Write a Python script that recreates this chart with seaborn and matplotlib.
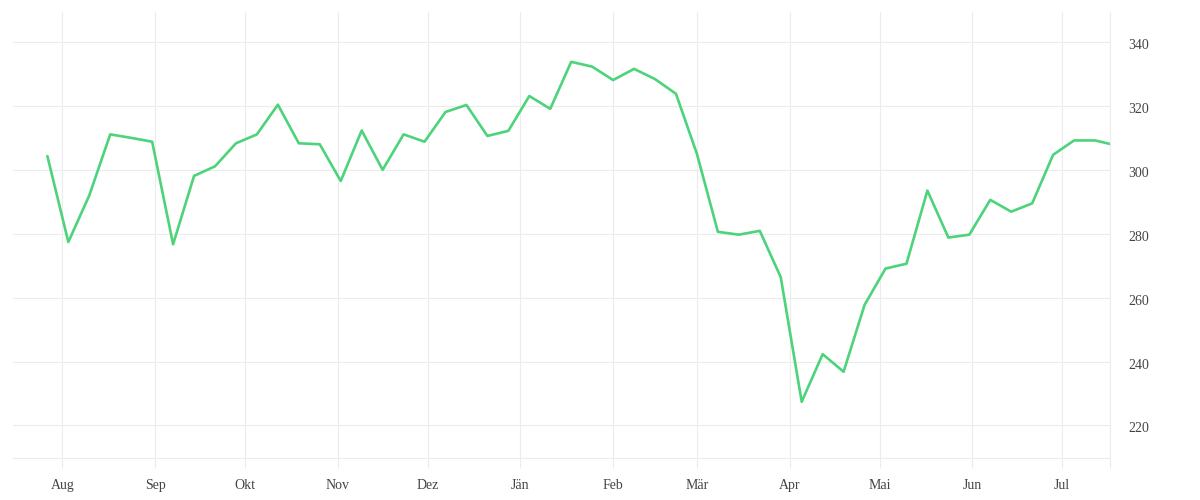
import matplotlib
matplotlib.use("Agg")
import matplotlib.pyplot as plt
import matplotlib.transforms as mtransforms
import seaborn as sns
import pandas as pd

# ---- data ----
first_date = "2022-07-27"
n_weekly = 51
last_date = "2023-07-17"
values = [304.3, 277.4, 292.0, 311.1, 310.0, 308.8, 276.7, 298.1, 301.1, 308.3,
          311.1, 320.4, 308.3, 308.0, 296.5, 312.3, 300.0, 311.1, 308.8, 318.1,
          320.3, 310.6, 312.2, 323.1, 319.1, 333.8, 332.3, 328.1, 331.6, 328.4,
          323.8, 305.0, 280.6, 279.7, 280.9, 266.4, 227.4, 242.3, 236.8, 257.7,
          269.1, 270.6, 293.5, 278.8, 279.7, 290.6, 286.9, 289.5, 304.7, 309.2,
          309.2, 308.1]
month_starts = ["2022-08-01", "2022-09-01", "2022-10-01", "2022-11-01", "2022-12-01",
                "2023-01-01", "2023-02-01", "2023-03-01", "2023-04-01", "2023-05-01",
                "2023-06-01", "2023-07-01"]
month_labels = ["Aug", "Sep", "Okt", "Nov", "Dez", "Jän", "Feb", "Mär", "Apr", "Mai", "Jun", "Jul"]
y_ticks = [220, 240, 260, 280, 300, 320, 340]
x_start = "2022-07-15 12:00"

dates = list(pd.date_range(first_date, periods=n_weekly, freq="7D")) + [pd.Timestamp(last_date)]
df = pd.DataFrame({"date": dates, "value": values})

sns.set_theme(style="white")
plt.rcParams["font.family"] = ["Liberation Serif", "DejaVu Serif"]

grid_c = "#ececec"
text_c = "#444444"

fig = plt.figure(figsize=(12, 5), dpi=100)
ax = fig.add_axes([0.0108, 0.084, 0.9142, 0.892])

sns.lineplot(data=df, x="date", y="value", ax=ax, color="#4cd37b", linewidth=1.9)

ax.set_xlim(pd.Timestamp(x_start), pd.Timestamp(last_date))
ax.set_ylim(209.8, 349.4)

ax.set_xticks([pd.Timestamp(d) for d in month_starts])
ax.set_xticklabels(month_labels)
ax.set_xticks([pd.Timestamp(last_date)], minor=True)
ax.set_yticks(y_ticks)
ax.set_yticklabels([str(v) for v in y_ticks])

ax.yaxis.tick_right()
ax.grid(True, which="major", color=grid_c, linewidth=0.8)
ax.set_axisbelow(True)

ax.tick_params(axis="x", which="both", bottom=True, length=7.5, width=0.8, color=grid_c,
               labelsize=10, labelcolor=text_c, pad=7.5, direction="out")
ax.tick_params(axis="y", length=0, labelsize=10, labelcolor=text_c, pad=13)

# nudge y labels slightly down, as in the reference
shift = mtransforms.ScaledTranslation(0, -2 / 100, fig.dpi_scale_trans)
for lbl in ax.get_yticklabels():
    lbl.set_transform(lbl.get_transform() + shift)

for s in ["left", "top"]:
    ax.spines[s].set_visible(False)
for s in ["right", "bottom"]:
    ax.spines[s].set_visible(True)
    ax.spines[s].set_color(grid_c)
    ax.spines[s].set_linewidth(0.8)

ax.set_xlabel("")
ax.set_ylabel("")

fig.savefig("out.png", dpi=100)
